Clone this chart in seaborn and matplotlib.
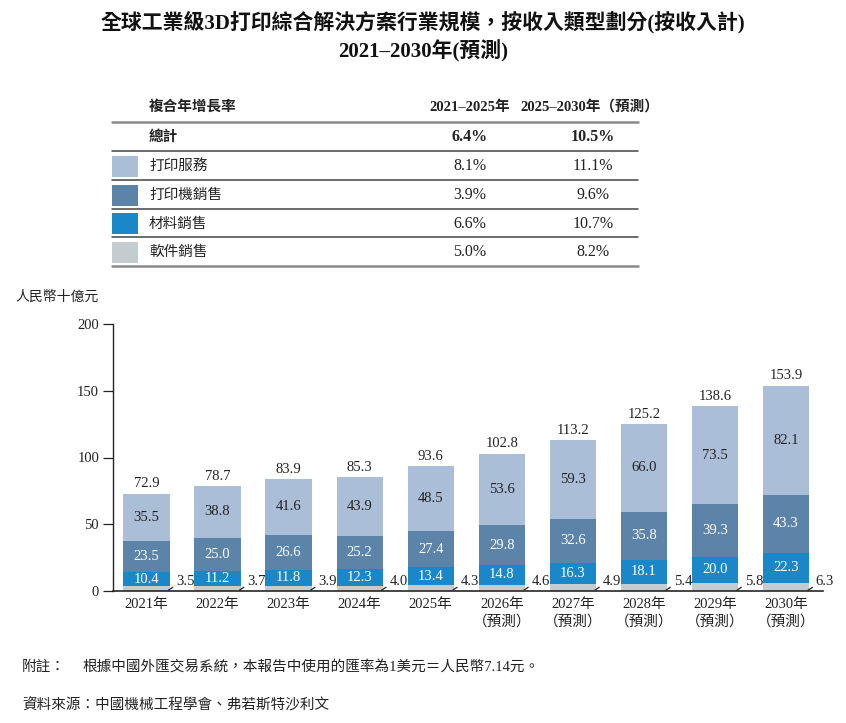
import matplotlib
matplotlib.use("Agg")
import matplotlib.pyplot as plt
from matplotlib.lines import Line2D
from matplotlib.patches import Rectangle
import pandas as pd
import seaborn as sns

# 數據
years = ["2021年", "2022年", "2023年", "2024年", "2025年",
         "2026年\n（預測）", "2027年\n（預測）", "2028年\n（預測）",
         "2029年\n（預測）", "2030年\n（預測）"]
print_service = [35.5, 38.8, 41.6, 43.9, 48.5, 53.6, 59.3, 66.0, 73.5, 82.1]
printer_sales = [23.5, 25.0, 26.6, 25.2, 27.4, 29.8, 32.6, 35.8, 39.3, 43.3]
material_sales = [10.4, 11.2, 11.8, 12.3, 13.4, 14.8, 16.3, 18.1, 20.0, 22.3]
software_sales = [3.5, 3.7, 3.9, 4.0, 4.3, 4.6, 4.9, 5.4, 5.8, 6.3]
totals = [72.9, 78.7, 83.9, 85.3, 93.6, 102.8, 113.2, 125.2, 138.6, 153.9]

segments = ["打印服務", "打印機銷售", "材料銷售", "軟件銷售"]
colors = ["#AABED7", "#5C84A8", "#1A88C8", "#C5CCD0"]
cagr_2125 = ["8.1%", "3.9%", "6.6%", "5.0%"]
cagr_2530 = ["11.1%", "9.6%", "10.7%", "8.2%"]
total_cagr = ["6.4%", "10.5%"]

W, H = 846, 723


def fx(x):
    return x / W


def fy(y):
    return 1 - y / H


sns.set_style("ticks")
plt.rcParams["font.family"] = ["Liberation Serif", "Noto Sans CJK TC", "DejaVu Sans"]
plt.rcParams["axes.unicode_minus"] = False

df = pd.DataFrame({
    "year": years,
    "software": software_sales,
    "material": material_sales,
    "printer": printer_sales,
    "service": print_service,
    "total": totals,
})
df["cum_material"] = df["software"] + df["material"]
df["cum_printer"] = df["cum_material"] + df["printer"]

fig = plt.figure(figsize=(W / 100, H / 100), dpi=100)
ax = fig.add_axes([fx(113), fy(591), fx(823) - fx(113), fy(324) - fy(591)])

# 疊加柱狀圖：由高至低覆蓋
for col, c in zip(["total", "cum_printer", "cum_material", "software"], colors):
    sns.barplot(data=df, x="year", y=col, order=years, color=c, saturation=1,
                width=0.65, errorbar=None, linewidth=0, ax=ax)

ax.set_ylim(0, 200)
ax.set_xlim(-0.47, 9.52)
ax.set_yticks([0, 50, 100, 150, 200])
ax.set_xlabel("")
ax.set_ylabel("")
sns.despine(ax=ax)
ax.spines["left"].set_linewidth(1.0)
ax.spines["bottom"].set_linewidth(1.2)
ax.tick_params(axis="x", length=0, labelsize=10.5, pad=5, colors="#222222")
ax.tick_params(axis="y", length=7, width=0.9, labelsize=10.5, pad=3, colors="#222222")
for lab in ax.get_xticklabels():
    lab.set_linespacing(1.3)

# 數據標籤
for i in range(len(years)):
    ax.text(i, totals[i] + 2.5, f"{totals[i]:.1f}", ha="center", va="bottom",
            fontsize=10.5, color="#222222")
    ax.text(i, (df["cum_printer"][i] + totals[i]) / 2, f"{print_service[i]:.1f}",
            ha="center", va="center", fontsize=10.5, color="#222222")
    ax.text(i, (df["cum_material"][i] + df["cum_printer"][i]) / 2, f"{printer_sales[i]:.1f}",
            ha="center", va="center", fontsize=10.5, color="white")
    ax.text(i, (software_sales[i] + df["cum_material"][i]) / 2, f"{material_sales[i]:.1f}",
            ha="center", va="center", fontsize=10.5, color="white")
    ax.annotate(f"{software_sales[i]:.1f}", xy=(i + 0.31, 0.6), xytext=(5.5, 6),
                textcoords="offset points", ha="left", va="center",
                fontsize=10.5, color="#222222",
                arrowprops=dict(arrowstyle="-", lw=0.9, color="#222222",
                                shrinkA=0, shrinkB=0, relpos=(0.05, 0.3)))

fig.text(fx(15), fy(297), "人民幣十億元", ha="left", va="center", fontsize=10, color="#222222")

# 標題
fig.text(0.5, fy(22), "全球工業級3D打印綜合解決方案行業規模，按收入類型劃分(按收入計)",
         ha="center", va="center", fontsize=15, fontweight="bold", color="#111111")
fig.text(0.5, fy(51), "2021–2030年(預測)", ha="center", va="center",
         fontsize=15, fontweight="bold", color="#111111")

# 複合年增長率表格
fig.text(fx(149), fy(107), "複合年增長率", ha="left", va="center", fontsize=10.5,
         fontweight="bold", color="#222222")
fig.text(fx(470), fy(107), "2021–2025年", ha="center", va="center", fontsize=10.5,
         fontweight="bold", color="#222222")
fig.text(fx(590), fy(107), "2025–2030年（預測）", ha="center", va="center", fontsize=10.5,
         fontweight="bold", color="#222222")
fig.text(fx(149), fy(137), "總計", ha="left", va="center", fontsize=10.5,
         fontweight="bold", color="#222222")
fig.text(fx(470), fy(137), total_cagr[0], ha="center", va="center", fontsize=11.5,
         fontweight="bold", color="#222222")
fig.text(fx(593), fy(137), total_cagr[1], ha="center", va="center", fontsize=11.5,
         fontweight="bold", color="#222222")

row_y = [166, 195, 224, 252]
for name, c, a, b, y in zip(segments, colors, cagr_2125, cagr_2530, row_y):
    fig.patches.append(Rectangle((fx(112), fy(y + 10.5)), fx(138) - fx(112), fy(0) - fy(21),
                                 transform=fig.transFigure, facecolor=c, edgecolor="none"))
    fig.text(fx(149), fy(y), name, ha="left", va="center", fontsize=10.5, color="#222222")
    fig.text(fx(470), fy(y), a, ha="center", va="center", fontsize=11.5, color="#222222")
    fig.text(fx(593), fy(y), b, ha="center", va="center", fontsize=11.5, color="#222222")

line_y = [122, 151, 180, 209, 237, 266]
for k, y in enumerate(line_y):
    heavy = k in (0, len(line_y) - 1)
    fig.add_artist(Line2D([fx(112), fx(638)], [fy(y), fy(y)], transform=fig.transFigure,
                          color="#8A8A8A" if heavy else "#444444", lw=1.8 if heavy else 1.1))

# 附註
fig.text(fx(22), fy(667), "附註：", ha="left", va="center", fontsize=10.5,
         style="italic", color="#222222")
fig.text(fx(82), fy(667), "根據中國外匯交易系統，本報告中使用的匯率為1美元＝人民幣7.14元。",
         ha="left", va="center", fontsize=10.5, color="#222222")
fig.text(fx(22), fy(705), "資料來源：中國機械工程學會、弗若斯特沙利文", ha="left", va="center",
         fontsize=10.5, style="italic", color="#222222")

fig.savefig("out.png", dpi=100)
